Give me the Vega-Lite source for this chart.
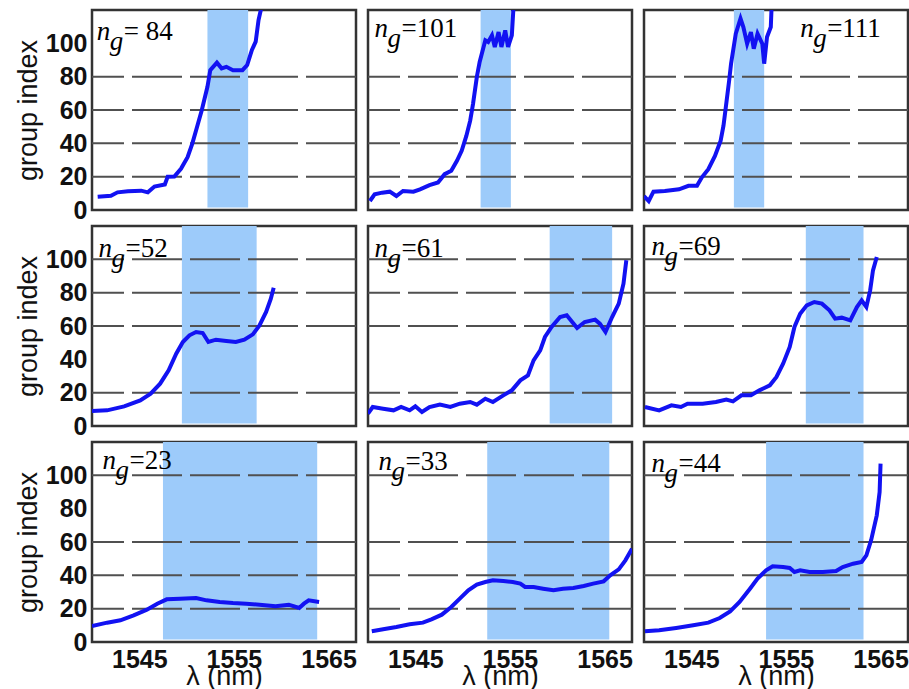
{
  "$schema": "https://vega.github.io/schema/vega-lite/v6.json",
  "padding": {"left": 14, "top": 8, "right": 0, "bottom": 0},
  "config": {
    "view": {"stroke": "#333333", "strokeWidth": 2.5},
    "axis": {"grid": false, "domain": false, "ticks": false, "labelOverlap": false, "labelFont": "Liberation Sans", "labelFontSize": 25, "labelFontWeight": "bold", "labelColor": "#111111", "titleFont": "Liberation Sans", "titleFontSize": 27, "titleFontWeight": "normal", "titleColor": "#111111"},
    "axisX": {"labelPadding": 5, "titlePadding": -9, "format": "d"},
    "axisY": {"labelPadding": 5, "titlePadding": 3, "labelOverlap": false}
  },
  "data": {"values": [
    {"k":"b","r":1,"c":1,"lam":1552.2,"lam2":1556.5},
    {"k":"b","r":1,"c":2,"lam":1551.9,"lam2":1555.1},
    {"k":"b","r":1,"c":3,"lam":1549.5,"lam2":1552.7},
    {"k":"b","r":2,"c":1,"lam":1549.5,"lam2":1557.4},
    {"k":"b","r":2,"c":2,"lam":1559.2,"lam2":1565.8},
    {"k":"b","r":2,"c":3,"lam":1557.1,"lam2":1563.2},
    {"k":"b","r":3,"c":1,"lam":1547.5,"lam2":1563.8},
    {"k":"b","r":3,"c":2,"lam":1552.6,"lam2":1565.5},
    {"k":"b","r":3,"c":3,"lam":1552.9,"lam2":1563.2},

    {"k":"g","r":1,"c":1,"ng":20},{"k":"g","r":1,"c":1,"ng":40},{"k":"g","r":1,"c":1,"ng":60},{"k":"g","r":1,"c":1,"ng":80},
    {"k":"g","r":1,"c":2,"ng":20},{"k":"g","r":1,"c":2,"ng":40},{"k":"g","r":1,"c":2,"ng":60},{"k":"g","r":1,"c":2,"ng":80},
    {"k":"g","r":1,"c":3,"ng":20},{"k":"g","r":1,"c":3,"ng":40},{"k":"g","r":1,"c":3,"ng":60},{"k":"g","r":1,"c":3,"ng":80},
    {"k":"g","r":2,"c":1,"ng":20},{"k":"g","r":2,"c":1,"ng":60},{"k":"g","r":2,"c":1,"ng":80},{"k":"g","r":2,"c":1,"ng":100},
    {"k":"g","r":2,"c":2,"ng":20},{"k":"g","r":2,"c":2,"ng":60},{"k":"g","r":2,"c":2,"ng":80},{"k":"g","r":2,"c":2,"ng":100},
    {"k":"g","r":2,"c":3,"ng":20},{"k":"g","r":2,"c":3,"ng":60},{"k":"g","r":2,"c":3,"ng":80},{"k":"g","r":2,"c":3,"ng":100},
    {"k":"g","r":3,"c":1,"ng":20},{"k":"g","r":3,"c":1,"ng":40},{"k":"g","r":3,"c":1,"ng":60},{"k":"g","r":3,"c":1,"ng":100},
    {"k":"g","r":3,"c":2,"ng":20},{"k":"g","r":3,"c":2,"ng":40},{"k":"g","r":3,"c":2,"ng":60},{"k":"g","r":3,"c":2,"ng":100},
    {"k":"g","r":3,"c":3,"ng":20},{"k":"g","r":3,"c":3,"ng":40},{"k":"g","r":3,"c":3,"ng":60},{"k":"g","r":3,"c":3,"ng":100},

    {"k":"a","r":1,"c":1,"lam":1540.5,"ng":101.8,"t":"= 84"},
    {"k":"a","r":1,"c":2,"lam":1540.7,"ng":103.8,"t":"=101"},
    {"k":"a","r":1,"c":3,"lam":1556.5,"ng":103.8,"t":"=111"},
    {"k":"a","r":2,"c":1,"lam":1540.7,"ng":101.4,"t":"=52"},
    {"k":"a","r":2,"c":2,"lam":1540.7,"ng":101.4,"t":"=61"},
    {"k":"a","r":2,"c":3,"lam":1540.8,"ng":102.4,"t":"=69"},
    {"k":"a","r":3,"c":1,"lam":1541.1,"ng":104,"t":"=23"},
    {"k":"a","r":3,"c":2,"lam":1541.1,"ng":103,"t":"=33"},
    {"k":"a","r":3,"c":3,"lam":1540.8,"ng":102,"t":"=44"},

    {"k":"c","r":1,"c":1,"lam":1540.6,"ng":8.0},{"k":"c","r":1,"c":1,"lam":1542.0,"ng":8.6},{"k":"c","r":1,"c":1,"lam":1542.7,"ng":10.6},{"k":"c","r":1,"c":1,"lam":1543.8,"ng":11.2},{"k":"c","r":1,"c":1,"lam":1545.2,"ng":11.6},{"k":"c","r":1,"c":1,"lam":1545.9,"ng":10.6},{"k":"c","r":1,"c":1,"lam":1546.6,"ng":14.1},{"k":"c","r":1,"c":1,"lam":1547.7,"ng":15.3},{"k":"c","r":1,"c":1,"lam":1548.0,"ng":20.0},{"k":"c","r":1,"c":1,"lam":1548.7,"ng":20.1},{"k":"c","r":1,"c":1,"lam":1549.4,"ng":24.7},{"k":"c","r":1,"c":1,"lam":1550.1,"ng":31.7},{"k":"c","r":1,"c":1,"lam":1550.6,"ng":39.8},{"k":"c","r":1,"c":1,"lam":1551.1,"ng":49.8},{"k":"c","r":1,"c":1,"lam":1551.6,"ng":59.8},{"k":"c","r":1,"c":1,"lam":1552.2,"ng":73.9},{"k":"c","r":1,"c":1,"lam":1552.5,"ng":83.9},{"k":"c","r":1,"c":1,"lam":1553.2,"ng":88.4},{"k":"c","r":1,"c":1,"lam":1553.7,"ng":85.0},{"k":"c","r":1,"c":1,"lam":1554.2,"ng":85.9},{"k":"c","r":1,"c":1,"lam":1554.9,"ng":83.9},{"k":"c","r":1,"c":1,"lam":1555.9,"ng":83.9},{"k":"c","r":1,"c":1,"lam":1556.4,"ng":87.0},{"k":"c","r":1,"c":1,"lam":1556.9,"ng":96.0},{"k":"c","r":1,"c":1,"lam":1557.3,"ng":101.0},{"k":"c","r":1,"c":1,"lam":1557.6,"ng":114.0},{"k":"c","r":1,"c":1,"lam":1558.0,"ng":124.0},

    {"k":"c","r":1,"c":2,"lam":1540.2,"ng":5.4},{"k":"c","r":1,"c":2,"lam":1540.7,"ng":9.4},{"k":"c","r":1,"c":2,"lam":1541.5,"ng":10.4},{"k":"c","r":1,"c":2,"lam":1542.3,"ng":11.0},{"k":"c","r":1,"c":2,"lam":1543.0,"ng":8.4},{"k":"c","r":1,"c":2,"lam":1543.7,"ng":11.4},{"k":"c","r":1,"c":2,"lam":1544.8,"ng":11.0},{"k":"c","r":1,"c":2,"lam":1545.5,"ng":12.4},{"k":"c","r":1,"c":2,"lam":1546.5,"ng":14.9},{"k":"c","r":1,"c":2,"lam":1547.4,"ng":16.5},{"k":"c","r":1,"c":2,"lam":1548.1,"ng":21.5},{"k":"c","r":1,"c":2,"lam":1548.8,"ng":23.5},{"k":"c","r":1,"c":2,"lam":1549.4,"ng":29.5},{"k":"c","r":1,"c":2,"lam":1549.9,"ng":35.5},{"k":"c","r":1,"c":2,"lam":1550.4,"ng":44.6},{"k":"c","r":1,"c":2,"lam":1550.8,"ng":53.6},{"k":"c","r":1,"c":2,"lam":1551.1,"ng":63.7},{"k":"c","r":1,"c":2,"lam":1551.5,"ng":79.7},{"k":"c","r":1,"c":2,"lam":1551.8,"ng":88.8},{"k":"c","r":1,"c":2,"lam":1552.4,"ng":101.8},{"k":"c","r":1,"c":2,"lam":1552.7,"ng":100.8},{"k":"c","r":1,"c":2,"lam":1553.1,"ng":104.8},{"k":"c","r":1,"c":2,"lam":1553.4,"ng":97.8},{"k":"c","r":1,"c":2,"lam":1553.8,"ng":106.8},{"k":"c","r":1,"c":2,"lam":1554.1,"ng":97.8},{"k":"c","r":1,"c":2,"lam":1554.5,"ng":107.8},{"k":"c","r":1,"c":2,"lam":1554.8,"ng":97.8},{"k":"c","r":1,"c":2,"lam":1555.2,"ng":104.8},{"k":"c","r":1,"c":2,"lam":1555.4,"ng":124.0},

    {"k":"c","r":1,"c":3,"lam":1540.0,"ng":8.4},{"k":"c","r":1,"c":3,"lam":1540.5,"ng":5.4},{"k":"c","r":1,"c":3,"lam":1541.0,"ng":11.0},{"k":"c","r":1,"c":3,"lam":1542.2,"ng":11.4},{"k":"c","r":1,"c":3,"lam":1543.7,"ng":12.4},{"k":"c","r":1,"c":3,"lam":1544.7,"ng":14.5},{"k":"c","r":1,"c":3,"lam":1545.6,"ng":14.5},{"k":"c","r":1,"c":3,"lam":1546.1,"ng":19.5},{"k":"c","r":1,"c":3,"lam":1546.8,"ng":24.5},{"k":"c","r":1,"c":3,"lam":1547.5,"ng":32.5},{"k":"c","r":1,"c":3,"lam":1548.1,"ng":41.6},{"k":"c","r":1,"c":3,"lam":1548.4,"ng":50.6},{"k":"c","r":1,"c":3,"lam":1548.6,"ng":59.6},{"k":"c","r":1,"c":3,"lam":1549.0,"ng":77.7},{"k":"c","r":1,"c":3,"lam":1549.2,"ng":87.8},{"k":"c","r":1,"c":3,"lam":1549.7,"ng":105.8},{"k":"c","r":1,"c":3,"lam":1550.2,"ng":114.9},{"k":"c","r":1,"c":3,"lam":1550.5,"ng":109.8},{"k":"c","r":1,"c":3,"lam":1550.9,"ng":99.8},{"k":"c","r":1,"c":3,"lam":1551.3,"ng":106.8},{"k":"c","r":1,"c":3,"lam":1551.6,"ng":96.8},{"k":"c","r":1,"c":3,"lam":1552.0,"ng":105.8},{"k":"c","r":1,"c":3,"lam":1552.5,"ng":99.8},{"k":"c","r":1,"c":3,"lam":1552.7,"ng":87.8},{"k":"c","r":1,"c":3,"lam":1553.0,"ng":103.8},{"k":"c","r":1,"c":3,"lam":1553.4,"ng":109.8},{"k":"c","r":1,"c":3,"lam":1553.5,"ng":124.0},

    {"k":"c","r":2,"c":1,"lam":1540.0,"ng":9.0},{"k":"c","r":2,"c":1,"lam":1541.6,"ng":9.4},{"k":"c","r":2,"c":1,"lam":1543.4,"ng":11.8},{"k":"c","r":2,"c":1,"lam":1545.1,"ng":15.4},{"k":"c","r":2,"c":1,"lam":1546.2,"ng":19.4},{"k":"c","r":2,"c":1,"lam":1547.2,"ng":25.4},{"k":"c","r":2,"c":1,"lam":1548.1,"ng":33.4},{"k":"c","r":2,"c":1,"lam":1548.9,"ng":43.4},{"k":"c","r":2,"c":1,"lam":1549.6,"ng":50.4},{"k":"c","r":2,"c":1,"lam":1550.3,"ng":54.4},{"k":"c","r":2,"c":1,"lam":1551.0,"ng":56.4},{"k":"c","r":2,"c":1,"lam":1551.7,"ng":55.8},{"k":"c","r":2,"c":1,"lam":1552.3,"ng":50.4},{"k":"c","r":2,"c":1,"lam":1553.1,"ng":51.8},{"k":"c","r":2,"c":1,"lam":1554.2,"ng":51.0},{"k":"c","r":2,"c":1,"lam":1555.2,"ng":50.4},{"k":"c","r":2,"c":1,"lam":1556.1,"ng":51.8},{"k":"c","r":2,"c":1,"lam":1557.0,"ng":55.0},{"k":"c","r":2,"c":1,"lam":1557.7,"ng":60.4},{"k":"c","r":2,"c":1,"lam":1558.4,"ng":68.4},{"k":"c","r":2,"c":1,"lam":1558.9,"ng":76.4},{"k":"c","r":2,"c":1,"lam":1559.2,"ng":83.0},

    {"k":"c","r":2,"c":2,"lam":1540.0,"ng":7.4},{"k":"c","r":2,"c":2,"lam":1540.5,"ng":11.4},{"k":"c","r":2,"c":2,"lam":1541.6,"ng":10.4},{"k":"c","r":2,"c":2,"lam":1542.7,"ng":9.4},{"k":"c","r":2,"c":2,"lam":1543.5,"ng":11.4},{"k":"c","r":2,"c":2,"lam":1544.4,"ng":9.4},{"k":"c","r":2,"c":2,"lam":1545.0,"ng":11.8},{"k":"c","r":2,"c":2,"lam":1545.7,"ng":8.4},{"k":"c","r":2,"c":2,"lam":1546.5,"ng":11.4},{"k":"c","r":2,"c":2,"lam":1547.6,"ng":12.8},{"k":"c","r":2,"c":2,"lam":1548.7,"ng":11.4},{"k":"c","r":2,"c":2,"lam":1549.7,"ng":13.4},{"k":"c","r":2,"c":2,"lam":1550.8,"ng":14.4},{"k":"c","r":2,"c":2,"lam":1551.5,"ng":12.8},{"k":"c","r":2,"c":2,"lam":1552.4,"ng":16.4},{"k":"c","r":2,"c":2,"lam":1553.2,"ng":14.4},{"k":"c","r":2,"c":2,"lam":1554.3,"ng":18.4},{"k":"c","r":2,"c":2,"lam":1555.2,"ng":21.4},{"k":"c","r":2,"c":2,"lam":1556.1,"ng":27.4},{"k":"c","r":2,"c":2,"lam":1556.9,"ng":30.4},{"k":"c","r":2,"c":2,"lam":1557.5,"ng":39.4},{"k":"c","r":2,"c":2,"lam":1558.2,"ng":45.4},{"k":"c","r":2,"c":2,"lam":1558.7,"ng":53.4},{"k":"c","r":2,"c":2,"lam":1559.4,"ng":59.4},{"k":"c","r":2,"c":2,"lam":1560.3,"ng":65.4},{"k":"c","r":2,"c":2,"lam":1561.0,"ng":66.4},{"k":"c","r":2,"c":2,"lam":1562.1,"ng":58.8},{"k":"c","r":2,"c":2,"lam":1562.9,"ng":62.4},{"k":"c","r":2,"c":2,"lam":1564.0,"ng":63.8},{"k":"c","r":2,"c":2,"lam":1564.5,"ng":61.4},{"k":"c","r":2,"c":2,"lam":1565.1,"ng":56.4},{"k":"c","r":2,"c":2,"lam":1565.8,"ng":65.4},{"k":"c","r":2,"c":2,"lam":1566.5,"ng":73.4},{"k":"c","r":2,"c":2,"lam":1567.0,"ng":85.4},{"k":"c","r":2,"c":2,"lam":1567.3,"ng":99.4},

    {"k":"c","r":2,"c":3,"lam":1540.1,"ng":11.4},{"k":"c","r":2,"c":3,"lam":1541.6,"ng":9.4},{"k":"c","r":2,"c":3,"lam":1542.9,"ng":12.4},{"k":"c","r":2,"c":3,"lam":1543.9,"ng":11.4},{"k":"c","r":2,"c":3,"lam":1544.6,"ng":13.4},{"k":"c","r":2,"c":3,"lam":1546.2,"ng":13.4},{"k":"c","r":2,"c":3,"lam":1547.6,"ng":14.4},{"k":"c","r":2,"c":3,"lam":1548.7,"ng":15.8},{"k":"c","r":2,"c":3,"lam":1549.4,"ng":14.8},{"k":"c","r":2,"c":3,"lam":1550.3,"ng":18.4},{"k":"c","r":2,"c":3,"lam":1551.3,"ng":18.4},{"k":"c","r":2,"c":3,"lam":1552.2,"ng":21.4},{"k":"c","r":2,"c":3,"lam":1553.3,"ng":24.4},{"k":"c","r":2,"c":3,"lam":1554.0,"ng":29.4},{"k":"c","r":2,"c":3,"lam":1554.7,"ng":37.4},{"k":"c","r":2,"c":3,"lam":1555.4,"ng":47.4},{"k":"c","r":2,"c":3,"lam":1555.9,"ng":59.4},{"k":"c","r":2,"c":3,"lam":1556.5,"ng":67.4},{"k":"c","r":2,"c":3,"lam":1557.2,"ng":72.4},{"k":"c","r":2,"c":3,"lam":1558.0,"ng":74.4},{"k":"c","r":2,"c":3,"lam":1558.8,"ng":73.4},{"k":"c","r":2,"c":3,"lam":1559.6,"ng":69.4},{"k":"c","r":2,"c":3,"lam":1560.2,"ng":64.4},{"k":"c","r":2,"c":3,"lam":1560.9,"ng":65.0},{"k":"c","r":2,"c":3,"lam":1561.8,"ng":63.4},{"k":"c","r":2,"c":3,"lam":1562.5,"ng":71.4},{"k":"c","r":2,"c":3,"lam":1563.0,"ng":75.4},{"k":"c","r":2,"c":3,"lam":1563.5,"ng":71.4},{"k":"c","r":2,"c":3,"lam":1563.9,"ng":81.4},{"k":"c","r":2,"c":3,"lam":1564.2,"ng":93.4},{"k":"c","r":2,"c":3,"lam":1564.6,"ng":101.4},

    {"k":"c","r":3,"c":1,"lam":1540.0,"ng":9.6},{"k":"c","r":3,"c":1,"lam":1541.6,"ng":11.6},{"k":"c","r":3,"c":1,"lam":1543.0,"ng":13.0},{"k":"c","r":3,"c":1,"lam":1544.4,"ng":16.0},{"k":"c","r":3,"c":1,"lam":1545.8,"ng":19.4},{"k":"c","r":3,"c":1,"lam":1546.9,"ng":23.0},{"k":"c","r":3,"c":1,"lam":1547.9,"ng":25.6},{"k":"c","r":3,"c":1,"lam":1549.3,"ng":26.0},{"k":"c","r":3,"c":1,"lam":1551.0,"ng":26.4},{"k":"c","r":3,"c":1,"lam":1552.1,"ng":25.0},{"k":"c","r":3,"c":1,"lam":1553.5,"ng":24.0},{"k":"c","r":3,"c":1,"lam":1554.9,"ng":23.4},{"k":"c","r":3,"c":1,"lam":1556.3,"ng":23.0},{"k":"c","r":3,"c":1,"lam":1557.7,"ng":22.4},{"k":"c","r":3,"c":1,"lam":1559.4,"ng":21.4},{"k":"c","r":3,"c":1,"lam":1560.8,"ng":22.4},{"k":"c","r":3,"c":1,"lam":1561.9,"ng":20.4},{"k":"c","r":3,"c":1,"lam":1562.4,"ng":23.0},{"k":"c","r":3,"c":1,"lam":1562.9,"ng":25.0},{"k":"c","r":3,"c":1,"lam":1564.0,"ng":24.0},

    {"k":"c","r":3,"c":2,"lam":1540.4,"ng":6.4},{"k":"c","r":3,"c":2,"lam":1541.6,"ng":7.6},{"k":"c","r":3,"c":2,"lam":1543.0,"ng":9.0},{"k":"c","r":3,"c":2,"lam":1544.4,"ng":10.6},{"k":"c","r":3,"c":2,"lam":1545.8,"ng":11.6},{"k":"c","r":3,"c":2,"lam":1546.7,"ng":13.6},{"k":"c","r":3,"c":2,"lam":1547.8,"ng":16.4},{"k":"c","r":3,"c":2,"lam":1548.8,"ng":21.0},{"k":"c","r":3,"c":2,"lam":1549.7,"ng":26.0},{"k":"c","r":3,"c":2,"lam":1550.6,"ng":31.0},{"k":"c","r":3,"c":2,"lam":1551.5,"ng":34.4},{"k":"c","r":3,"c":2,"lam":1552.4,"ng":36.0},{"k":"c","r":3,"c":2,"lam":1553.2,"ng":37.0},{"k":"c","r":3,"c":2,"lam":1554.3,"ng":36.6},{"k":"c","r":3,"c":2,"lam":1555.3,"ng":36.0},{"k":"c","r":3,"c":2,"lam":1556.1,"ng":35.0},{"k":"c","r":3,"c":2,"lam":1556.6,"ng":33.0},{"k":"c","r":3,"c":2,"lam":1557.5,"ng":33.0},{"k":"c","r":3,"c":2,"lam":1558.5,"ng":32.0},{"k":"c","r":3,"c":2,"lam":1559.6,"ng":31.0},{"k":"c","r":3,"c":2,"lam":1560.6,"ng":32.0},{"k":"c","r":3,"c":2,"lam":1561.7,"ng":32.4},{"k":"c","r":3,"c":2,"lam":1562.8,"ng":33.6},{"k":"c","r":3,"c":2,"lam":1563.8,"ng":35.0},{"k":"c","r":3,"c":2,"lam":1564.9,"ng":36.4},{"k":"c","r":3,"c":2,"lam":1565.6,"ng":40.0},{"k":"c","r":3,"c":2,"lam":1566.5,"ng":43.6},{"k":"c","r":3,"c":2,"lam":1567.2,"ng":49.0},{"k":"c","r":3,"c":2,"lam":1567.9,"ng":56.0},

    {"k":"c","r":3,"c":3,"lam":1540.1,"ng":6.4},{"k":"c","r":3,"c":3,"lam":1541.6,"ng":7.0},{"k":"c","r":3,"c":3,"lam":1543.4,"ng":8.4},{"k":"c","r":3,"c":3,"lam":1545.2,"ng":10.0},{"k":"c","r":3,"c":3,"lam":1546.8,"ng":11.6},{"k":"c","r":3,"c":3,"lam":1548.0,"ng":14.4},{"k":"c","r":3,"c":3,"lam":1549.1,"ng":18.4},{"k":"c","r":3,"c":3,"lam":1550.1,"ng":24.0},{"k":"c","r":3,"c":3,"lam":1551.2,"ng":32.0},{"k":"c","r":3,"c":3,"lam":1552.0,"ng":38.0},{"k":"c","r":3,"c":3,"lam":1552.9,"ng":43.0},{"k":"c","r":3,"c":3,"lam":1553.6,"ng":45.4},{"k":"c","r":3,"c":3,"lam":1554.7,"ng":45.0},{"k":"c","r":3,"c":3,"lam":1555.4,"ng":44.4},{"k":"c","r":3,"c":3,"lam":1555.9,"ng":42.0},{"k":"c","r":3,"c":3,"lam":1556.5,"ng":43.0},{"k":"c","r":3,"c":3,"lam":1557.5,"ng":42.0},{"k":"c","r":3,"c":3,"lam":1558.9,"ng":42.0},{"k":"c","r":3,"c":3,"lam":1560.3,"ng":42.6},{"k":"c","r":3,"c":3,"lam":1561.0,"ng":45.0},{"k":"c","r":3,"c":3,"lam":1562.1,"ng":47.0},{"k":"c","r":3,"c":3,"lam":1563.0,"ng":48.0},{"k":"c","r":3,"c":3,"lam":1563.5,"ng":52.0},{"k":"c","r":3,"c":3,"lam":1564.0,"ng":61.0},{"k":"c","r":3,"c":3,"lam":1564.6,"ng":76.0},{"k":"c","r":3,"c":3,"lam":1564.9,"ng":90.0},{"k":"c","r":3,"c":3,"lam":1565.0,"ng":107.0}
  ]},
  "facet": {
    "row": {"field": "r", "type": "ordinal", "header": {"title": null, "labels": false}},
    "column": {"field": "c", "type": "ordinal", "header": {"title": null, "labels": false}}
  },
  "spacing": {"row": 16, "column": 12},
  "bounds": "flush",
  "spec": {
    "width": 264,
    "height": 200,
    "layer": [
      {
        "transform": [{"filter": "datum.k === 'b'"}],
        "mark": {"type": "rect", "color": "#9dcbfa", "opacity": 1},
        "encoding": {
          "x": {"field": "lam", "type": "quantitative", "scale": {"domain": [1540, 1567.9], "nice": false, "zero": false}, "axis": {"values": [1545, 1555, 1565], "title": "λ (nm)", "labelOverlap": false}},
          "x2": {"field": "lam2"},
          "y": {"datum": 1.5, "type": "quantitative", "scale": {"domain": [0, 120], "nice": false, "zero": false}, "axis": {"values": [0, 20, 40, 60, 80, 100], "title": "group index", "labelOverlap": false, "labelSeparation": 0, "labelBound": false}},
          "y2": {"datum": 120}
        }
      },
      {
        "transform": [{"filter": "datum.k === 'g'"}],
        "mark": {"type": "rule", "color": "#505050", "strokeWidth": 2, "strokeDash": [50, 8]},
        "encoding": {
          "y": {"field": "ng", "type": "quantitative", "scale": {"domain": [0, 120], "nice": false, "zero": false}, "axis": {"values": [0, 20, 40, 60, 80, 100], "title": "group index", "labelOverlap": false, "labelSeparation": 0, "labelBound": false}}
        }
      },
      {
        "transform": [{"filter": "datum.k === 'c'"}],
        "mark": {"type": "line", "color": "#1212f2", "strokeWidth": 4, "clip": true},
        "encoding": {
          "x": {"field": "lam", "type": "quantitative", "scale": {"domain": [1540, 1567.9], "nice": false, "zero": false}, "axis": {"values": [1545, 1555, 1565], "title": "λ (nm)", "labelOverlap": false}},
          "y": {"field": "ng", "type": "quantitative", "scale": {"domain": [0, 120], "nice": false, "zero": false}, "axis": {"values": [0, 20, 40, 60, 80, 100], "title": "group index", "labelOverlap": false, "labelSeparation": 0, "labelBound": false}}
        }
      },
      {
        "transform": [{"filter": "datum.k === 'a'"}],
        "mark": {"type": "text", "text": "n", "font": "Liberation Serif", "fontSize": 27, "fontStyle": "italic", "align": "left", "baseline": "alphabetic", "color": "#000000"},
        "encoding": {
          "x": {"field": "lam", "type": "quantitative", "scale": {"domain": [1540, 1567.9], "nice": false, "zero": false}, "axis": {"values": [1545, 1555, 1565], "title": "λ (nm)", "labelOverlap": false}},
          "y": {"field": "ng", "type": "quantitative", "scale": {"domain": [0, 120], "nice": false, "zero": false}, "axis": {"values": [0, 20, 40, 60, 80, 100], "title": "group index", "labelOverlap": false, "labelSeparation": 0, "labelBound": false}}
        }
      },
      {
        "transform": [{"filter": "datum.k === 'a'"}],
        "mark": {"type": "text", "text": "g", "font": "Liberation Serif", "fontSize": 27, "fontStyle": "italic", "align": "left", "baseline": "alphabetic", "dx": 13, "dy": 10, "color": "#000000"},
        "encoding": {
          "x": {"field": "lam", "type": "quantitative", "scale": {"domain": [1540, 1567.9], "nice": false, "zero": false}, "axis": {"values": [1545, 1555, 1565], "title": "λ (nm)", "labelOverlap": false}},
          "y": {"field": "ng", "type": "quantitative", "scale": {"domain": [0, 120], "nice": false, "zero": false}, "axis": {"values": [0, 20, 40, 60, 80, 100], "title": "group index", "labelOverlap": false, "labelSeparation": 0, "labelBound": false}}
        }
      },
      {
        "transform": [{"filter": "datum.k === 'a'"}],
        "mark": {"type": "text", "font": "Liberation Serif", "fontSize": 27, "align": "left", "baseline": "alphabetic", "dx": 27, "color": "#000000"},
        "encoding": {
          "x": {"field": "lam", "type": "quantitative", "scale": {"domain": [1540, 1567.9], "nice": false, "zero": false}, "axis": {"values": [1545, 1555, 1565], "title": "λ (nm)", "labelOverlap": false}},
          "y": {"field": "ng", "type": "quantitative", "scale": {"domain": [0, 120], "nice": false, "zero": false}, "axis": {"values": [0, 20, 40, 60, 80, 100], "title": "group index", "labelOverlap": false, "labelSeparation": 0, "labelBound": false}},
          "text": {"field": "t"}
        }
      }
    ]
  }
}
